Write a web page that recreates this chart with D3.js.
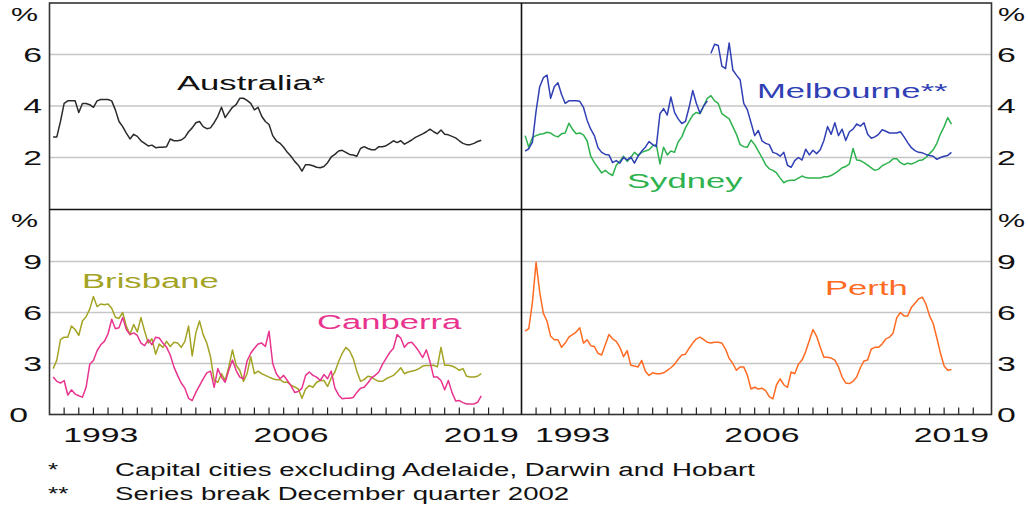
<!DOCTYPE html>
<html><head><meta charset="utf-8">
<script src="https://cdn.jsdelivr.net/npm/d3@7"></script>
<style>
html,body{margin:0;padding:0;background:#fff;}
svg{display:block;font-family:"Liberation Sans",Arial,Helvetica,sans-serif;}
</style></head><body>
<svg id="chart" width="1028" height="506"></svg>
<script>
// ---------------- DATA (year-ended % change, quarterly, from Mar quarter 1990) ----------------
const firstQuarterEnd = 1990.25;   // decimal year of first observation
const quarterLength = 0.25;

const australia = [2.8,2.8,3.4,4.1,4.2,4.2,4.2,3.75,4.1,4.1,4.05,3.95,4.2,4.25,4.25,4.25,4.2,3.85,3.4,3.2,
  2.95,2.72,2.9,2.82,2.65,2.55,2.45,2.48,2.38,2.4,2.4,2.42,2.72,2.65,2.65,2.68,2.78,3.0,3.15,3.35,
  3.4,3.2,3.12,3.15,3.35,3.6,3.95,3.55,3.75,3.95,4.05,4.3,4.3,4.22,4.1,3.85,3.95,3.6,3.4,3.28,
  2.85,2.65,2.55,2.4,2.2,2.05,1.85,1.7,1.47,1.72,1.72,1.68,1.62,1.6,1.65,1.8,2.02,2.12,2.25,2.28,
  2.2,2.12,2.1,2.05,2.35,2.42,2.35,2.3,2.3,2.42,2.42,2.46,2.55,2.65,2.58,2.65,2.52,2.6,2.68,2.78,
  2.85,2.92,3.0,3.1,3.0,2.92,3.07,2.9,2.88,2.82,2.76,2.65,2.55,2.5,2.5,2.55,2.62,2.67];

// Melbourne: series break December quarter 2002
const melbourneBeforeBreak = [2.25,2.34,2.6,3.8,4.75,5.1,5.2,4.3,4.75,4.9,4.45,4.1,4.2,4.2,4.2,4.18,3.95,3.45,3.1,2.85,
  2.38,2.2,2.12,2.1,1.8,1.88,1.78,2.01,1.9,2.02,1.78,2.05,2.25,2.4,2.62,2.5,2.42,3.7,3.9,3.65,
  4.35,3.75,3.5,3.32,3.4,3.95,4.6,4.1,3.72,4.0,4.2];
const melbourneAfterBreak = [6.05,6.4,6.35,5.55,5.45,6.45,5.4,5.2,5.02,
  4.1,3.85,3.35,2.85,3.05,2.65,2.55,2.5,2.2,2.15,2.05,2.2,1.7,1.62,1.88,2.0,1.9,2.32,2.1,2.28,
  2.15,2.3,2.66,3.2,2.9,3.35,2.85,3.1,2.66,3.0,3.1,3.3,3.22,3.35,2.9,2.75,2.8,2.9,3.08,3.02,
  2.95,2.95,2.95,3.0,2.8,2.58,2.38,2.27,2.2,2.18,2.12,2.08,2.05,1.93,2.0,2.05,2.08,2.2];

const sydney = [2.85,2.4,2.78,2.85,2.9,2.92,2.98,2.95,2.85,2.8,2.92,2.95,3.33,3.1,2.92,2.95,2.88,2.65,2.05,1.8,
  1.6,1.4,1.5,1.38,1.3,1.7,1.85,2.05,1.85,2.0,2.2,2.08,2.2,2.25,2.3,2.45,2.5,1.75,2.4,2.1,
  2.25,2.2,2.6,2.8,3.15,3.4,3.65,3.75,3.7,4.0,4.3,4.4,4.2,4.1,3.7,3.6,3.5,3.2,2.9,2.5,
  2.42,2.4,2.68,2.5,2.25,2.0,1.72,1.56,1.5,1.4,1.2,1.02,1.1,1.12,1.12,1.2,1.28,1.22,1.2,1.2,
  1.2,1.2,1.25,1.25,1.3,1.38,1.48,1.6,1.65,1.75,2.35,1.9,1.88,1.8,1.7,1.6,1.5,1.55,1.68,1.75,
  1.82,1.95,1.95,1.8,1.72,1.78,1.75,1.8,1.88,1.9,2.0,2.15,2.3,2.55,2.92,3.2,3.55,3.3];

const brisbane = [2.7,3.2,4.4,4.55,4.55,5.2,5.0,4.65,5.5,5.75,6.2,6.94,6.35,6.5,6.45,6.5,6.25,5.72,5.65,6.0,
  5.2,4.7,5.3,4.85,5.7,4.9,4.2,4.45,3.55,4.15,3.95,4.3,4.0,4.25,4.2,3.95,4.3,5.2,3.45,4.8,
  5.5,4.7,4.2,3.4,2.0,1.9,2.4,2.0,2.8,3.8,2.9,2.6,1.95,2.4,3.4,2.4,2.55,2.4,2.3,2.2,
  2.1,2.05,2.05,1.9,1.9,1.72,1.62,1.5,0.95,1.5,1.7,1.6,1.9,2.0,2.0,1.65,2.15,2.5,3.1,3.6,
  3.95,3.75,3.3,2.55,1.95,2.05,2.25,2.2,2.05,1.95,1.95,2.1,2.2,2.3,2.5,2.75,2.4,2.5,2.55,2.6,
  2.7,2.85,2.88,2.88,2.9,2.8,3.95,2.9,2.9,2.85,2.75,2.6,2.7,2.25,2.2,2.2,2.25,2.4];

const canberra = [2.2,1.95,1.85,2.0,1.15,1.45,1.2,1.1,1.02,1.6,2.95,3.18,3.75,4.1,4.3,4.75,5.6,5.05,5.1,5.7,
  5.0,4.7,4.8,4.65,4.2,4.05,4.4,4.1,4.55,4.5,4.2,3.95,3.5,2.8,2.3,1.85,1.55,0.95,0.82,1.3,
  1.7,2.1,2.45,2.55,1.6,2.7,2.2,1.9,2.6,3.2,2.6,2.2,2.1,3.15,3.6,3.9,4.15,4.2,4.0,4.9,
  3.0,2.4,2.1,2.3,2.0,1.7,1.3,1.35,1.55,2.3,2.5,2.3,2.2,2.0,2.35,2.1,2.55,1.55,1.15,0.92,
  0.95,0.95,1.0,1.3,1.55,1.6,1.85,2.15,2.3,2.5,2.95,3.3,3.65,3.9,4.7,4.5,3.95,4.2,4.25,4.0,
  3.7,3.35,3.8,3.1,2.2,2.2,2.0,1.45,2.0,1.3,0.8,0.82,0.7,0.62,0.62,0.62,0.72,1.1];

const perth = [4.9,5.05,6.6,8.95,7.2,5.95,5.5,4.6,4.4,4.4,3.95,4.2,4.55,4.7,4.85,5.1,4.2,4.4,4.05,4.0,
  3.6,3.5,4.1,4.7,4.45,4.3,3.95,3.4,3.75,2.9,2.85,2.8,3.18,2.55,2.3,2.45,2.4,2.4,2.45,2.6,
  2.75,2.95,3.25,3.5,3.55,3.9,4.2,4.45,4.55,4.4,4.25,4.2,4.25,4.25,4.2,3.85,3.3,3.0,2.6,2.8,
  2.8,2.3,1.5,1.6,1.5,1.55,1.4,1.05,0.92,1.75,2.1,1.75,1.6,2.5,2.4,2.95,3.2,3.7,4.35,5.0,
  4.6,3.95,3.37,3.37,3.32,3.2,2.8,2.2,1.85,1.82,1.95,2.2,2.75,3.15,3.2,3.85,3.95,3.95,4.15,4.45,
  4.55,4.8,5.7,6.0,5.8,5.8,6.3,6.55,6.8,6.9,6.5,5.8,5.35,4.5,3.6,2.85,2.6,2.65];

const xDomain = [1990, 2022.25];
const xTickYears = [1991,1992,1993,1994,1995,1996,1997,1998,1999,2000,2001,2002,2003,2004,2005,2006,
  2007,2008,2009,2010,2011,2012,2013,2014,2015,2016,2017,2018,2019,2020,2021];
const xLabelYears = [1993, 2006, 2019];
const yTicksTop = [2, 4, 6];
const yDomainTop = [0, 8];
const yTicksBottom = [0, 3, 6, 9];
const yDomainBottom = [0, 12];
const footnotes = [["*", "Capital cities excluding Adelaide, Darwin and Hobart"],
                   ["**", "Series break December quarter 2002"]];

// ---------------- LAYOUT / STYLE ----------------
const colors = {australia:"#2b2b2b", melbourne:"#3040b4", sydney:"#2db24e",
                brisbane:"#a3a324", canberra:"#e8348e", perth:"#ff6b22"};
const SX = 1.69;         // horizontal text stretch of the reference
const colsX = [[49.5, 521.5], [521.5, 991.5]];
const rowTop = {y0: 209, y1: 3};
const rowBot = {y0: 414.5, y1: 210.5};

const svg = d3.select("#chart");

const xScales = colsX.map(r => d3.scaleLinear().domain(xDomain).range(r));
const yTop = d3.scaleLinear().domain(yDomainTop).range([rowTop.y0, rowTop.y1]);
const yBot = d3.scaleLinear().domain(yDomainBottom).range([rowBot.y0, rowBot.y1]);

function qDates(n, offset = 0) { return d3.range(n).map(i => firstQuarterEnd + (i + offset) * quarterLength); }

function sText(g, x, y, str, o = {}) {
  const fs = o.size || 20, sx = o.sx || SX;
  return g.append("text")
    .attr("transform", `translate(${x},${y}) scale(${sx},1)`)
    .attr("text-anchor", o.anchor || "start")
    .attr("font-size", fs)
    .attr("fill", o.fill || "#111")
    .text(str);
}

// gridlines
const grid = svg.append("g").attr("stroke", "#c6c6c6").attr("stroke-width", 1.3);
yTicksTop.forEach(v => grid.append("line").attr("x1", colsX[0][0]).attr("x2", colsX[1][1])
  .attr("y1", yTop(v)).attr("y2", yTop(v)));
yTicksBottom.filter(v => v > 0).forEach(v => grid.append("line").attr("x1", colsX[0][0]).attr("x2", colsX[1][1])
  .attr("y1", yBot(v)).attr("y2", yBot(v)));

// series
function drawSeries(xs, ys, values, offset, color) {
  const dates = qDates(values.length, offset);
  const line = d3.line().x((d, i) => xs(dates[i])).y(d => ys(d));
  svg.append("path").datum(values).attr("d", line)
    .attr("fill", "none").attr("stroke", color).attr("stroke-width", 1.5)
    .attr("stroke-linejoin", "round");
}
drawSeries(xScales[0], yTop, australia, 0, colors.australia);
drawSeries(xScales[1], yTop, sydney, 0, colors.sydney);
drawSeries(xScales[1], yTop, melbourneBeforeBreak, 0, colors.melbourne);
drawSeries(xScales[1], yTop, melbourneAfterBreak, melbourneBeforeBreak.length, colors.melbourne);
drawSeries(xScales[0], yBot, brisbane, 0, colors.brisbane);
drawSeries(xScales[0], yBot, canberra, 0, colors.canberra);
drawSeries(xScales[1], yBot, perth, 0, colors.perth);

// frame and dividers
const frame = svg.append("g").attr("fill", "none");
frame.append("rect").attr("x", colsX[0][0]).attr("y", rowTop.y1)
  .attr("width", colsX[1][1] - colsX[0][0]).attr("height", rowBot.y0 - rowTop.y1)
  .attr("stroke", "#333").attr("stroke-width", 1.6);
frame.append("line").attr("x1", colsX[0][0]).attr("x2", colsX[1][1])
  .attr("y1", rowTop.y0 + 0.5).attr("y2", rowTop.y0 + 0.5).attr("stroke", "#111").attr("stroke-width", 1.6);
frame.append("line").attr("x1", colsX[0][1]).attr("x2", colsX[0][1])
  .attr("y1", rowTop.y1).attr("y2", rowBot.y0).attr("stroke", "#111").attr("stroke-width", 1.6);

// x ticks & labels
xScales.forEach(xs => {
  const g = svg.append("g");
  xTickYears.forEach(yr => g.append("line").attr("x1", xs(yr)).attr("x2", xs(yr))
    .attr("y1", rowBot.y0).attr("y2", rowBot.y0 - 7).attr("stroke", "#222").attr("stroke-width", 1.2));
  xLabelYears.forEach(yr => sText(g, xs(yr + 0.5), 441.5, String(yr), {anchor: "middle"}));
});

// y labels
const yl = svg.append("g");
const capOff = 7.2;
yTicksTop.forEach(v => {
  sText(yl, 42, yTop(v) + capOff, String(v), {anchor: "end"});
  sText(yl, 997, yTop(v) + capOff, String(v), {anchor: "start"});
});
yTicksBottom.forEach(v => {
  sText(yl, v === 0 ? 28 : 42, yBot(v) + capOff, String(v), {anchor: "end"});
  sText(yl, 997, yBot(v) + capOff, String(v), {anchor: "start"});
});
[20.5, 226.5].forEach(y => {
  sText(yl, 38, y, "%", {anchor: "end", size: 18});
  sText(yl, 998, y, "%", {anchor: "start", size: 18});
});

// series labels
const lab = svg.append("g");
sText(lab, 177, 89.5, "Australia*", {size: 20.5, fill: "#111"});
sText(lab, 757, 98, "Melbourne**", {size: 20.5, fill: colors.melbourne});
sText(lab, 627, 188, "Sydney", {size: 20.5, fill: colors.sydney});
sText(lab, 82, 288, "Brisbane", {size: 20.5, fill: colors.brisbane});
sText(lab, 317, 329, "Canberra", {size: 20.5, fill: colors.canberra});
sText(lab, 825, 295, "Perth", {size: 20.5, fill: colors.perth});

// footnotes
const fn = svg.append("g");
footnotes.forEach((f, i) => {
  const y = 475.5 + i * 24;
  sText(fn, 48, y, f[0], {size: 18, sx: 1.45});
  sText(fn, 115, y, f[1], {size: 18, sx: 1.535});
});
</script>
</body></html>
